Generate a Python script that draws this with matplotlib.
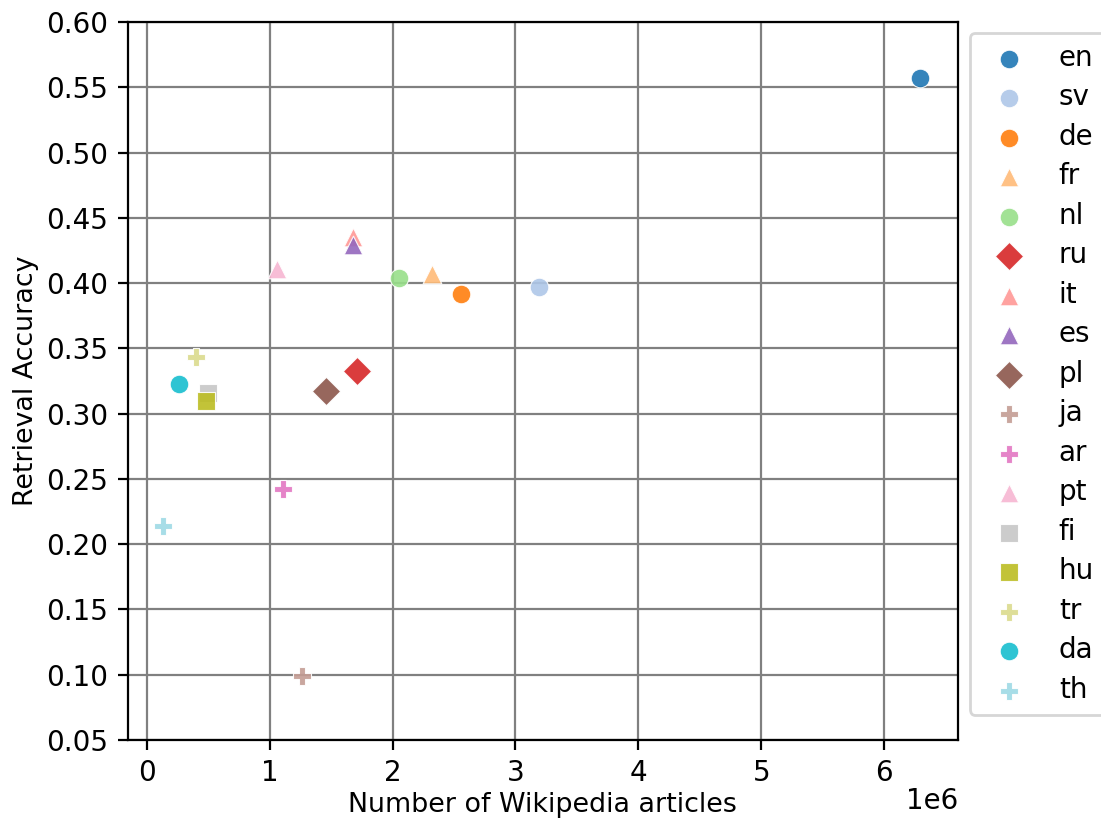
import matplotlib
matplotlib.use("Agg")
import matplotlib.pyplot as plt

# language, article count (millions) and retrieval accuracy
langs = ["en", "sv", "de", "fr", "nl", "ru", "it", "es", "pl",
         "ja", "ar", "pt", "fi", "hu", "tr", "da", "th"]
articles = [6.29, 3.19, 2.56, 2.32, 2.05, 1.71, 1.68, 1.68, 1.46,
            1.26, 1.11, 1.06, 0.50, 0.48, 0.40, 0.26, 0.13]
accuracy = [0.557, 0.397, 0.392, 0.407, 0.404, 0.333, 0.435, 0.429, 0.317,
            0.099, 0.242, 0.411, 0.316, 0.310, 0.343, 0.323, 0.214]
markers = ["o", "o", "o", "^", "o", "D", "^", "^", "D",
           "P", "P", "^", "s", "s", "P", "o", "P"]

cmap = plt.get_cmap("tab20")
n = len(langs)

fig = plt.figure(figsize=(1101 / 200, 821 / 200), dpi=200)
ax = fig.add_axes([0.116, 0.0987, 0.754, 0.8745])

for i, (lang, x, y, m) in enumerate(zip(langs, articles, accuracy, markers)):
    size = 52 if m == "D" else 45
    ax.scatter(x * 1e6, y, s=size, marker=m, color=cmap(i / (n - 1)),
               edgecolors="white", linewidths=0.4, alpha=0.9, label=lang, zorder=3)

ax.set_ylim(0.05, 0.60)
ax.set_xlim(-0.155e6, 6.6e6)
ax.set_yticks([0.05, 0.10, 0.15, 0.20, 0.25, 0.30, 0.35, 0.40, 0.45, 0.50, 0.55, 0.60])
ax.grid(True, color="grey", linewidth=0.8)
ax.set_axisbelow(True)
ax.set_xlabel("Number of Wikipedia articles", fontsize=9.7, labelpad=1.5)
ax.set_ylabel("Retrieval Accuracy", fontsize=9.7, labelpad=2.5)
ax.xaxis.OFFSETTEXTPAD = 0

ax.legend(loc="upper left", bbox_to_anchor=(1.0145, 0.985), borderaxespad=0.0,
          labelspacing=0.414)

fig.savefig("out.png", dpi=200)
